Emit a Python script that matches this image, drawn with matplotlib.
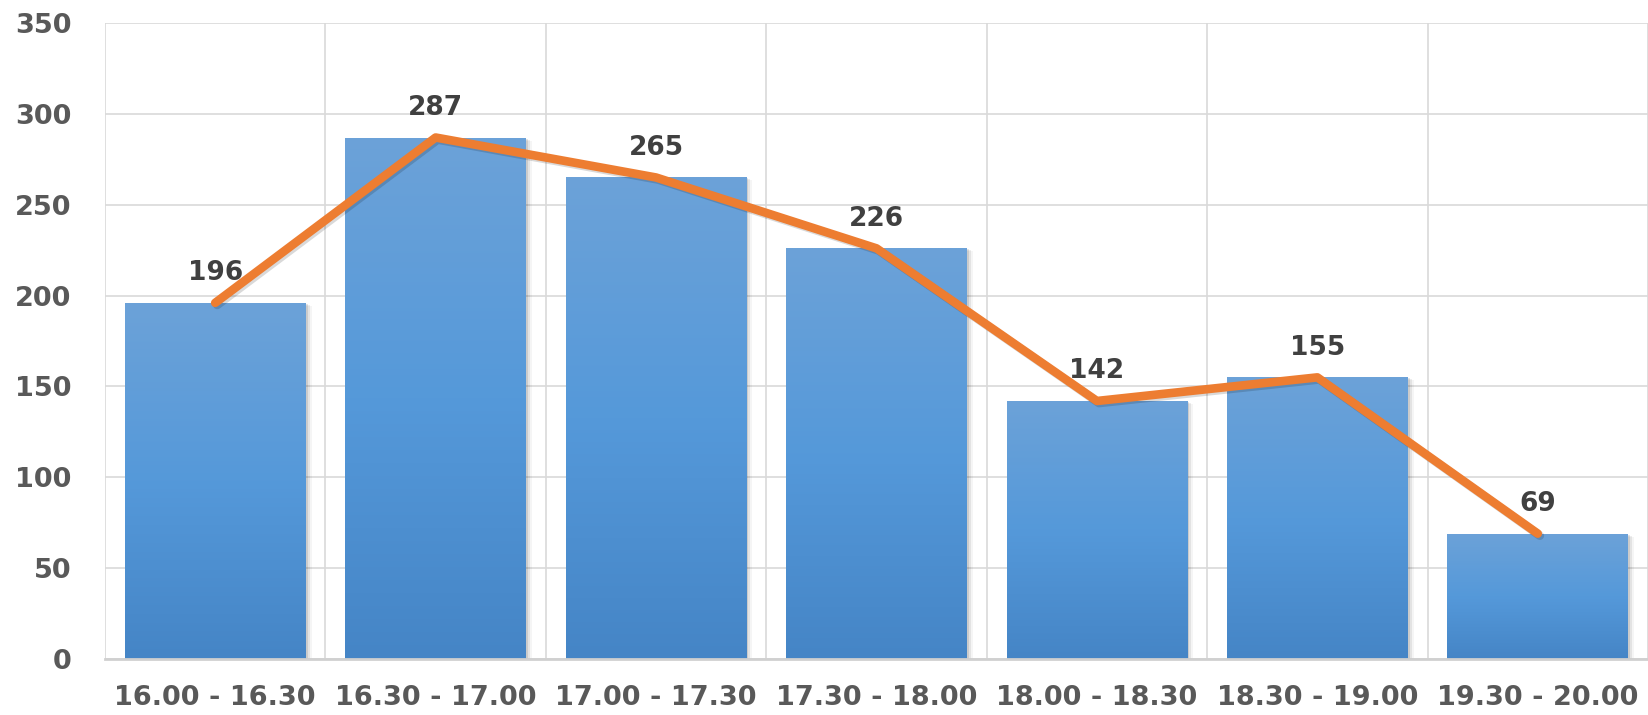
import numpy as np
import matplotlib
matplotlib.use("Agg")
import matplotlib.pyplot as plt
import matplotlib.patheffects as pe
from matplotlib.colors import LinearSegmentedColormap

# time slots and counts
slots = ["16.00 - 16.30", "16.30 - 17.00", "17.00 - 17.30", "17.30 - 18.00",
         "18.00 - 18.30", "18.30 - 19.00", "19.30 - 20.00"]
counts = [196, 287, 265, 226, 142, 155, 69]
y_ticks = [0, 50, 100, 150, 200, 250, 300, 350]

fig = plt.figure(figsize=(16.48, 7.15), dpi=100)
ax = fig.add_axes([0.0637, 0.0783, 0.9363, 0.8895])

x = np.arange(len(slots))
bars = ax.bar(x, counts, width=0.82, color="none", zorder=2)

# gradient fill for each bar (lighter at top, darker at bottom)
grad = LinearSegmentedColormap.from_list("g", ["#4585C6", "#5599DA", "#6CA2D8"])
for b in bars:
    x0, w, h = b.get_x(), b.get_width(), b.get_height()
    # soft shadow on the right side
    for k, a in enumerate([0.10, 0.07, 0.04]):
        sh = plt.Rectangle((x0, 0), w, h, facecolor="#000000", edgecolor="none",
                           alpha=a, zorder=1.9,
                           transform=ax.transData + matplotlib.transforms.Affine2D().translate(2 + 2 * k, -1 - k))
        ax.add_patch(sh)
    img = ax.imshow(np.linspace(0, 1, 256).reshape(-1, 1), cmap=grad, origin="lower",
                    extent=(x0, x0 + w, 0, h), aspect="auto", zorder=2)
    img.set_clip_path(b)

ax.plot(x, counts, color="#ED7D31", linewidth=6.2, solid_capstyle="round",
        solid_joinstyle="round", zorder=3,
        path_effects=[pe.SimpleLineShadow(offset=(1.5, -1.5), alpha=0.15), pe.Normal()])

for xi, v in zip(x, counts):
    ax.annotate(str(v), xy=(xi, v), xytext=(0, 12), textcoords="offset points",
                ha="center", va="bottom", fontsize=19, fontweight="bold",
                color="#404040", zorder=4)

ax.set_xlim(-0.5, len(slots) - 0.5)
ax.set_ylim(0, 350)
ax.set_yticks(y_ticks)
ax.set_xticks(x)
ax.set_xticklabels(slots)

ax.set_xticks(np.arange(-0.5, len(slots), 1), minor=True)
ax.grid(True, axis="y", which="major", color="#D9D9D9", linewidth=1.2, zorder=0)
ax.grid(True, axis="x", which="minor", color="#D9D9D9", linewidth=1.2, zorder=0)
ax.grid(False, axis="x", which="major")
ax.set_axisbelow(True)

for s in ["top", "right", "left"]:
    ax.spines[s].set_visible(False)
ax.spines["bottom"].set_color("#D0D0D0")
ax.spines["bottom"].set_linewidth(2)

ax.tick_params(axis="both", which="both", length=0)
ax.tick_params(axis="x", pad=19)
ax.tick_params(axis="y", pad=24)
for lab in ax.get_xticklabels() + ax.get_yticklabels():
    lab.set_fontsize(19.5)
    lab.set_fontweight("bold")
    lab.set_color("#595959")

fig.savefig("out.png", dpi=100)
